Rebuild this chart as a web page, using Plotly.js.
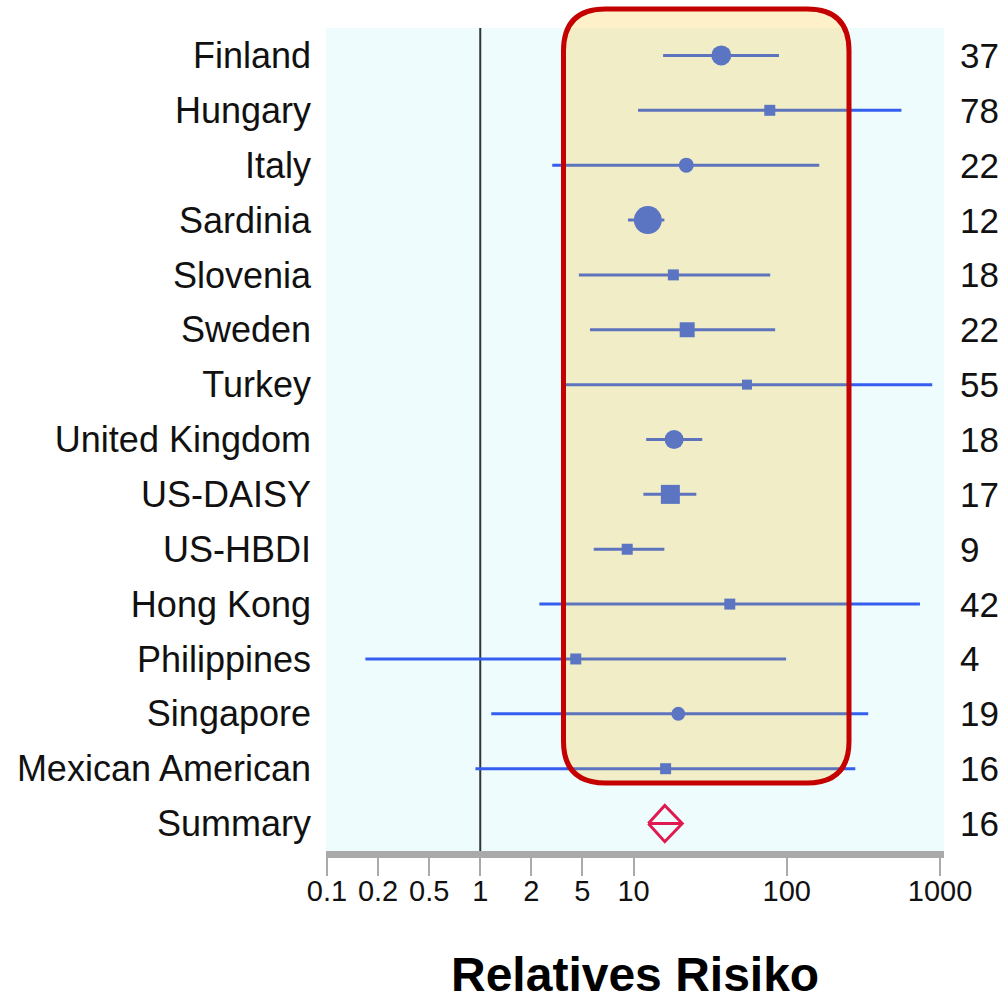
<!DOCTYPE html>
<html>
<head>
<meta charset="utf-8">
<script src="https://cdn.plot.ly/plotly-3.0.1.min.js"></script>
<style>html,body{margin:0;padding:0;background:#fff;}#chart{width:1007px;height:996px;}</style>
</head>
<body>
<div id="chart"></div>
<script>
// ---- data ----
const studies = ["Finland","Hungary","Italy","Sardinia","Slovenia","Sweden","Turkey","United Kingdom","US-DAISY","US-HBDI","Hong Kong","Philippines","Singapore","Mexican American"];
const rrEstimate = [37.4, 77.5, 22.1, 12.4, 18.2, 22.4, 55.0, 18.4, 17.4, 9.1, 42.5, 4.2, 19.6, 16.2];
const ciLower    = [15.6, 10.7, 2.95, 9.2, 4.4, 5.2, 3.6, 12.1, 11.6, 5.5, 2.43, 0.178, 1.18, 0.93];
const ciUpper    = [89, 560, 163, 15.9, 78, 84, 890, 28.1, 25.7, 15.9, 740, 99, 340, 280];
const markerType = ["circle","square","circle","circle","square","square","square","circle","square","square","square","square","circle","square"];
const markerSize = [20, 11, 15, 28, 11, 15, 10, 19, 19, 11, 11, 11, 14, 11];
const rrLabels   = ["37","78","22","12","18","22","55","18","17","9","42","4","19","16"];
const summaryName = "Summary";
const summaryEstimate = 16;
const summaryLower = 12.5;
const summaryUpper = 20.8;
const summaryLabel = "16";
const tickVals = [0.1, 0.2154, 0.4642, 1, 2.154, 4.642, 10, 100, 1000];
const tickLabels = ["0.1","0.2","0.5","1","2","5","10","100","1000"];
const axisTitle = "Relatives Risiko";

// ---- layout geometry ----
const W = 1007, H = 996;
const mL = 326, mR = 63, mT = 28, mB = 145;
const plotW = W - mL - mR, plotH = H - mT - mB;
const FONT = '"Liberation Sans", Arial, Helvetica, sans-serif';
const LINE_BLUE = '#335ef0';
const MARK_BLUE = '#3060f8';
const RED = '#e01a50';

const allNames = studies.concat([summaryName]);
const allLabels = rrLabels.concat([summaryLabel]);
const nRows = allNames.length;
const idx = allNames.map((_, i) => i);
const sIdx = studies.length;

const traces = [];
// reference line at RR = 1
traces.push({x: [1, 1], y: [-0.5, nRows - 0.5], mode: 'lines', line: {color: '#333', width: 2}, hoverinfo: 'skip', showlegend: false});

// studies, grouped by marker type
['circle', 'square'].forEach(sym => {
  const sel = studies.map((_, i) => i).filter(i => markerType[i] === sym);
  traces.push({
    x: sel.map(i => rrEstimate[i]),
    y: sel.map(i => i),
    mode: 'markers',
    type: 'scatter',
    marker: {symbol: sym, size: sel.map(i => markerSize[i]), color: MARK_BLUE, opacity: 1, line: {width: 0}},
    error_x: {type: 'data', symmetric: false,
      array: sel.map(i => ciUpper[i] - rrEstimate[i]),
      arrayminus: sel.map(i => rrEstimate[i] - ciLower[i]),
      color: LINE_BLUE, thickness: 3, width: 0},
    hoverinfo: 'skip', showlegend: false
  });
});

// summary diamond
const dh = 0.33;
traces.push({
  x: [summaryLower, summaryEstimate, summaryUpper, summaryEstimate, summaryLower],
  y: [sIdx, sIdx - dh, sIdx, sIdx + dh, sIdx],
  mode: 'lines', line: {color: RED, width: 3}, hoverinfo: 'skip', showlegend: false
});
traces.push({
  x: [summaryLower, summaryUpper], y: [sIdx, sIdx],
  mode: 'lines', line: {color: RED, width: 3}, hoverinfo: 'skip', showlegend: false
});

// x range in log units so that 0.1 and 1000 sit at the axis ends
const decadePx = 153.25;
const xr = [-1 - 1 / decadePx, 3 + 4 / decadePx];

// rounded highlight box (pixel geometry -> paper coords)
function px2paperX(p) { return (p - mL) / plotW; }
function px2paperY(p) { return (mT + plotH - p) / plotH; }
const bx0 = 563.5, bx1 = 849, by0 = 9, by1 = 783, br = 42;
const X0 = px2paperX(bx0), X1 = px2paperX(bx1), Y0 = px2paperY(by0), Y1 = px2paperY(by1);
const rx = br / plotW, ry = br / plotH;
const boxPath = `M ${X0 + rx},${Y0} L ${X1 - rx},${Y0} Q ${X1},${Y0} ${X1},${Y0 - ry} L ${X1},${Y1 + ry} Q ${X1},${Y1} ${X1 - rx},${Y1} L ${X0 + rx},${Y1} Q ${X0},${Y1} ${X0},${Y1 + ry} L ${X0},${Y0 - ry} Q ${X0},${Y0} ${X0 + rx},${Y0} Z`;

const annotations = allLabels.map((t, i) => ({
  text: t, xref: 'paper', yref: 'y', x: 1, y: i, xanchor: 'left', yanchor: 'middle',
  xshift: 14, showarrow: false, font: {family: FONT, size: 35, color: '#111'}
}));
annotations.push({
  text: '<b>' + axisTitle + '</b>', xref: 'paper', yref: 'paper', x: 0.5, y: 0,
  xanchor: 'center', yanchor: 'middle', yshift: -123, showarrow: false,
  font: {family: FONT, size: 48, color: '#000'}
});

const layout = {
  width: W, height: H,
  margin: {l: mL, r: mR, t: mT, b: mB, pad: 0},
  paper_bgcolor: '#ffffff',
  plot_bgcolor: '#effcfd',
  showlegend: false,
  xaxis: {
    type: 'log', range: xr, tickmode: 'array', tickvals: tickVals, ticktext: tickLabels,
    showgrid: false, zeroline: false, showline: true, linecolor: '#aaaaaa', linewidth: 7,
    ticks: 'outside', ticklen: 18, tickwidth: 2, tickcolor: '#aaaaaa',
    ticklabelstandoff: -10,
    tickfont: {family: FONT, size: 29, color: '#111'}, fixedrange: true
  },
  yaxis: {
    range: [nRows - 0.5, -0.5], tickmode: 'array', tickvals: idx, ticktext: allNames,
    showgrid: false, zeroline: false, showline: false, ticks: '',
    ticklabelstandoff: 14,
    tickfont: {family: FONT, size: 36, color: '#111'}, fixedrange: true
  },
  shapes: [{
    type: 'path', xref: 'paper', yref: 'paper', path: boxPath, layer: 'above',
    fillcolor: 'rgba(250,190,10,0.22)', line: {color: '#c40000', width: 5}
  }],
  annotations: annotations
};

Plotly.newPlot('chart', traces, layout, {staticPlot: true, displayModeBar: false});
</script>
</body>
</html>
